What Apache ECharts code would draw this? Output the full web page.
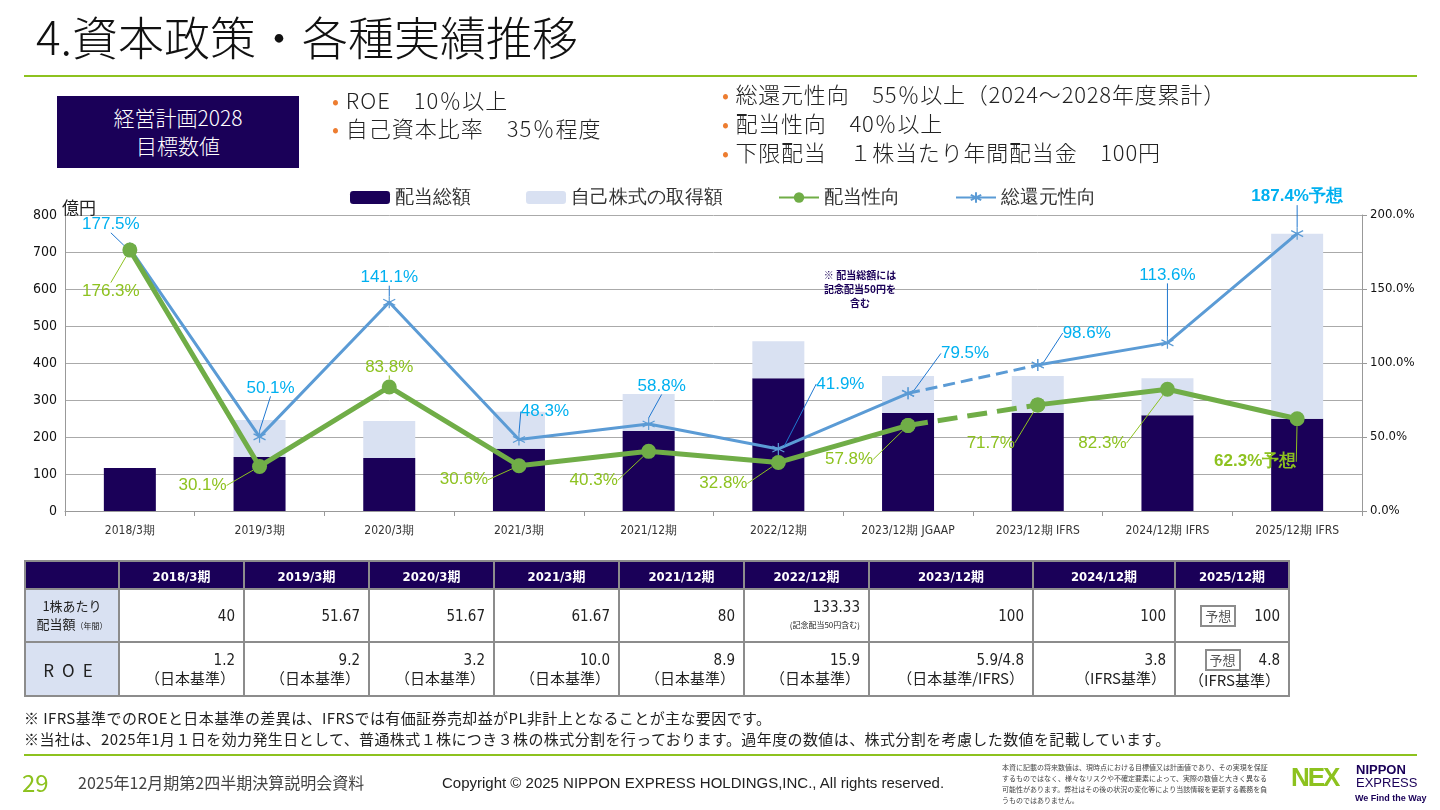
<!DOCTYPE html>
<html><head><meta charset="utf-8">
<script src="https://cdn.jsdelivr.net/npm/echarts@6/dist/echarts.min.js"></script>
<style>
body{margin:0;width:1440px;height:810px;position:relative;background:#fff;font-family:"Noto Sans CJK JP","Noto Sans",sans-serif;overflow:hidden;color:#222}
.abs{position:absolute}
#chart{position:absolute;left:0;top:0;width:1440px;height:810px}
table{border-collapse:collapse;font-family:"DejaVu Sans Condensed","Noto Sans CJK JP",sans-serif}
td,th{border:2px solid #8c8c8c;padding:0 8px;font-size:15px}
th{background:#1A0058;color:#fff;font-size:13px;height:26px}
td.h{background:#D9E1F2;text-align:center;font-family:"Noto Sans CJK JP"}
td.v{text-align:right;line-height:18px}
td.v span.j{font-family:"Noto Sans CJK JP"}
.tag{display:inline-block;border:2px solid #8c8c8c;font-size:13px;padding:0 3px;margin-right:18px;color:#555;font-family:"Noto Sans CJK JP"}
</style></head><body>
<div id="chart"></div>
<div class="abs" style="left:36px;top:2px;font-size:46px;color:#111;font-weight:300">4.資本政策・各種実績推移</div>
<div class="abs" style="left:24px;top:75px;width:1393px;height:2px;background:#8DC21F"></div>
<div class="abs" style="left:57px;top:96px;width:242px;height:72px;background:#1A0058;color:#fff;font-size:21px;text-align:center;line-height:28px;padding-top:7px;box-sizing:border-box;font-weight:300">経営計画2028<br>目標数値</div>
<div class="abs" style="left:332px;top:85px;font-size:22px;line-height:28px;letter-spacing:1px;font-weight:300"><span style="color:#ED7D31">•</span> ROE　10％以上<br><span style="color:#ED7D31">•</span> 自己資本比率　35％程度</div>
<div class="abs" style="left:722px;top:79px;font-size:22px;line-height:29px;letter-spacing:0.8px;font-weight:300"><span style="color:#ED7D31">•</span> 総還元性向　55％以上（2024～2028年度累計）<br><span style="color:#ED7D31">•</span> 配当性向　40％以上<br><span style="color:#ED7D31">•</span> 下限配当　１株当たり年間配当金　100円</div>
<div class="abs" style="left:62px;top:194px;font-size:17px">億円</div>
<div class="abs" style="left:805px;top:268px;width:110px;text-align:center;font-size:10px;font-weight:bold;color:#1A0058;line-height:14px">※ 配当総額には<br>記念配当50円を<br>含む</div>
<table class="abs" id="tbl" style="left:24px;top:560px">
<tr><th style="width:76px"></th><th style="width:107px">2018/3期</th><th style="width:107px">2019/3期</th><th style="width:107px">2020/3期</th><th style="width:107px">2021/3期</th><th style="width:107px">2021/12期</th><th style="width:107px">2022/12期</th><th style="width:146px">2023/12期</th><th style="width:124px">2024/12期</th><th style="width:96px">2025/12期</th></tr>
<tr style="height:53px"><td class="h" style="font-size:13px;line-height:18px">1株あたり<br>配当額<span style="font-size:8px">（年間）</span></td><td class="v">40</td><td class="v">51.67</td><td class="v">51.67</td><td class="v">61.67</td><td class="v">80</td><td class="v" style="line-height:16px">133.33<br><span class="j" style="font-size:8px">(記念配当50円含む)</span></td><td class="v">100</td><td class="v">100</td><td class="v"><span class="tag">予想</span>100</td></tr>
<tr style="height:54px"><td class="h" style="font-size:17px;letter-spacing:8px">ROE</td><td class="v">1.2<br><span class="j">（日本基準）</span></td><td class="v">9.2<br><span class="j">（日本基準）</span></td><td class="v">3.2<br><span class="j">（日本基準）</span></td><td class="v">10.0<br><span class="j">（日本基準）</span></td><td class="v">8.9<br><span class="j">（日本基準）</span></td><td class="v">15.9<br><span class="j">（日本基準）</span></td><td class="v">5.9/4.8<br><span class="j">（日本基準/IFRS）</span></td><td class="v">3.8<br><span class="j">（IFRS基準）</span></td><td class="v"><span class="tag">予想</span>4.8<br><span class="j">（IFRS基準）</span></td></tr>
</table>
<div class="abs" style="left:24px;top:707px;font-size:15px;line-height:21px;letter-spacing:0.4px">※ IFRS基準でのROEと日本基準の差異は、IFRSでは有価証券売却益がPL非計上となることが主な要因です。<br>※当社は、2025年1月１日を効力発生日として、普通株式１株につき３株の株式分割を行っております。過年度の数値は、株式分割を考慮した数値を記載しています。</div>
<div class="abs" style="left:24px;top:754px;width:1393px;height:2px;background:#8DC21F"></div>
<div class="abs" style="left:22px;top:764px;font-size:24px;color:#8DC21F">29</div>
<div class="abs" style="left:78px;top:770px;font-size:16px;color:#444">2025年12月期第2四半期決算説明会資料</div>
<div class="abs" style="left:442px;top:774px;font-size:15px;font-family:'Liberation Sans'">Copyright © 2025 NIPPON EXPRESS HOLDINGS,INC., All rights reserved.</div>
<div class="abs" style="left:1002px;top:762px;font-size:7px;line-height:11px;color:#444;width:270px">本資に記載の将来数値は、現時点における目標値又は計画値であり、その実現を保証するものではなく、様々なリスクや不確定要素によって、実際の数値と大きく異なる可能性があります。弊社はその後の状況の変化等により当該情報を更新する義務を負うものではありません。</div>
<div class="abs" style="left:1291px;top:762px;font-size:26px;font-weight:900;color:#8DC21F;font-family:'Liberation Sans';letter-spacing:-2px">NEX</div>
<div class="abs" style="left:1356px;top:763px;font-size:13px;font-weight:bold;color:#1A0058;line-height:13px;font-family:'Liberation Sans'">NIPPON<br><span style="font-weight:normal">EXPRESS</span></div>
<div class="abs" style="left:1355px;top:793px;font-size:9px;font-weight:bold;color:#1A0058;font-family:'Liberation Sans'">We Find the Way</div>
<script>
const categories=['2018/3期','2019/3期','2020/3期','2021/3期','2021/12期','2022/12期','2023/12期 JGAAP','2023/12期 IFRS','2024/12期 IFRS','2025/12期 IFRS'];
const dividendTotal=[116,146,143,168,216,359,265,265,259,249];
const buyback=[0,100,100,100,100,100,100,100,100,500];
const payoutRatio=[176.3,30.1,83.8,30.6,40.3,32.8,57.8,71.7,82.3,62.3];
const totalReturn=[177.5,50.1,141.1,48.3,58.8,41.9,79.5,98.6,113.6,187.4];
const leftTicks=[0,100,200,300,400,500,600,700,800];
const blueOff=[[-19,-24],[11,-49],[0,-25],[26,-28],[13,-38],[62,-65],[57,-40],[49,-32],[0,-68],[0,-37]];
const greenOff=[[-19,41],[-57,19],[0,-20],[-55,14],[-55,29],[-55,21],[-59,34],[-47,38],[-65,54],[-42,43]];
const BLUE='#5B9BD5',GREEN='#70AD47',LB='#00B0F0',LG='#8DC21F';
const star='path://M0,-6L0,6M-5,-3L5,3M-5,3L5,-3';
const AX='DejaVu Sans Condensed';
function part(arr,a,b){return arr.map((v,i)=>i>=a&&i<=b?v:'-');}
function lineSeries(name,arr,a,b,color,isGreen,dashed,labels){
  const offs=isGreen?greenOff:blueOff;
  return {name,type:'line',yAxisIndex:1,data:part(arr,a,b),z:isGreen?4:3,
    lineStyle:{color,width:isGreen?5:3,type:dashed?'dashed':'solid'},
    itemStyle:isGreen?{color}:{color:'rgba(0,0,0,0)',borderColor:color,borderWidth:1.2},
    symbol:isGreen?'circle':star,symbolSize:isGreen?15:12,showSymbol:true,
    label:{show:labels,position:'inside',fontSize:17,color:isGreen?LG:LB,
      fontFamily:'Liberation Sans',
      formatter:p=>{const t=p.value.toFixed(1)+'%';return p.dataIndex===9?'{b|'+t+'予想}':t;},
      rich:{b:{fontWeight:'bold',fontSize:17,color:isGreen?LG:LB}}},
    labelLine:{show:labels,lineStyle:{color:isGreen?LG:'#1F77D0',width:1}},
    labelLayout:labels?(p=>{const o=offs[p.dataIndex];return {dx:o[0],dy:o[1]};}):undefined};
}
const chart=echarts.init(document.getElementById('chart'));
chart.setOption({
  animation:false,
  legend:{top:183,left:345,itemGap:55,itemWidth:40,itemHeight:13,textStyle:{fontSize:19,color:'#333'},
    data:[{name:'配当総額'},{name:'自己株式の取得額'},{name:'配当性向'},{name:'総還元性向'}]},
  grid:{left:65,right:78,top:215,bottom:299},
  xAxis:{type:'category',data:categories,axisTick:{show:true},axisLine:{lineStyle:{color:'#999'}},
    axisLabel:{color:'#333',fontSize:12,margin:14,fontFamily:AX}},
  yAxis:[{type:'value',min:0,max:800,interval:100,axisLine:{show:true,lineStyle:{color:'#999'}},
     splitLine:{lineStyle:{color:'#aaa'}},axisLabel:{color:'#111',fontSize:14,fontFamily:AX,
     formatter:v=>leftTicks.includes(v)?v:''}},
    {type:'value',min:0,max:200,interval:50,axisLine:{show:true,lineStyle:{color:'#999'}},axisTick:{show:true},
     splitLine:{show:false},axisLabel:{color:'#111',fontSize:13,fontFamily:AX,formatter:v=>v.toFixed(1)+'%'}}],
  series:[
    {name:'配当総額',type:'bar',stack:'a',data:dividendTotal,barWidth:52,itemStyle:{color:'#1A0058'}},
    {name:'自己株式の取得額',type:'bar',stack:'a',data:buyback,itemStyle:{color:'#D9E1F2'}},
    lineSeries('総還元性向',totalReturn,0,6,BLUE,false,false,true),
    lineSeries('総還元性向b',totalReturn,7,9,BLUE,false,false,true),
    lineSeries('総還元性向c',totalReturn,6,7,BLUE,false,true,false),
    lineSeries('配当性向',payoutRatio,0,6,GREEN,true,false,true),
    lineSeries('配当性向b',payoutRatio,7,9,GREEN,true,false,true),
    lineSeries('配当性向c',payoutRatio,6,7,GREEN,true,true,false)
  ]
});
</script>
</body></html>
